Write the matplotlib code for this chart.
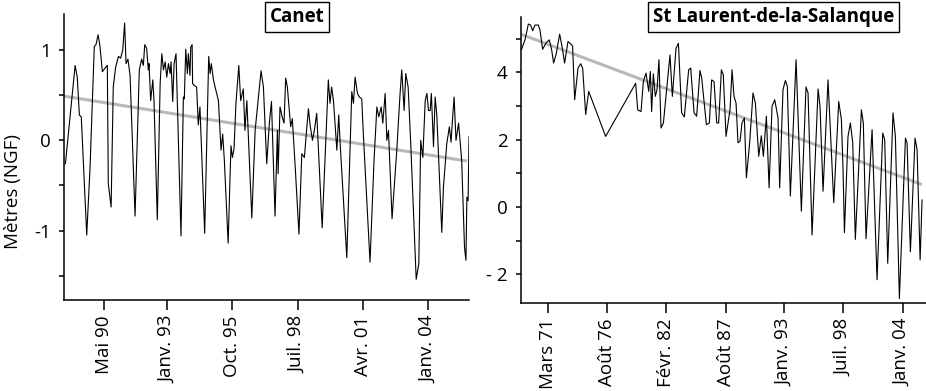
import matplotlib
matplotlib.use("Agg")
import matplotlib.pyplot as plt
import numpy as np

plt.rcParams['font.family'] = ['Open Sans', 'DejaVu Sans']

# Canet : niveau piézométrique (m NGF), date en années décimales
canet_t = [1988.70, 1989.11, 1989.20, 1989.29, 1989.37, 1989.60, 1989.74, 1989.92, 1989.99, 1990.08,
           1990.16, 1990.26, 1990.37, 1990.47, 1990.51, 1990.63, 1990.72, 1990.82, 1990.94, 1991.03,
           1991.12, 1991.20, 1991.26, 1991.34, 1991.43, 1991.64, 1991.82, 1991.92, 1991.99, 1992.05,
           1992.13, 1992.20, 1992.23, 1992.30, 1992.39, 1992.44, 1992.58, 1992.70, 1992.77, 1992.84,
           1992.91, 1992.98, 1993.05, 1993.12, 1993.16, 1993.23, 1993.29, 1993.37, 1993.58, 1993.68,
           1993.72, 1993.78, 1993.85, 1993.89, 1993.96, 1993.99, 1994.05, 1994.07, 1994.13, 1994.24,
           1994.31, 1994.38, 1994.58, 1994.75, 1994.81, 1994.86, 1994.95, 1995.02, 1995.16, 1995.27,
           1995.34, 1995.41, 1995.57, 1995.69, 1995.75, 1995.82, 1995.90, 1996.02, 1996.10, 1996.21,
           1996.28, 1996.36, 1996.57, 1996.71, 1996.96, 1997.06, 1997.20, 1997.31, 1997.40, 1997.55,
           1997.65, 1997.68, 1997.76, 1997.85, 1997.93, 1998.00, 1998.07, 1998.21, 1998.28, 1998.41,
           1998.56, 1998.68, 1998.79, 1998.86, 1998.96, 1999.03, 1999.13, 1999.21, 1999.31, 1999.54,
           1999.80, 1999.87, 1999.94, 2000.02, 2000.16, 2000.24, 2000.30, 2000.58, 2000.79, 2000.86,
           2000.93, 2001.03, 2001.11, 2001.21, 2001.28, 2001.56, 2001.73, 2001.85, 2001.93, 2002.03,
           2002.10, 2002.20, 2002.27, 2002.34, 2002.49, 2002.69, 2002.83, 2002.90, 2003.00, 2003.07,
           2003.17, 2003.28, 2003.51, 2003.62, 2003.70, 2003.79, 2003.89, 2003.96, 2004.03, 2004.10,
           2004.15, 2004.24, 2004.31, 2004.38, 2004.59, 2004.66, 2004.80, 2004.91, 2004.98, 2005.04,
           2005.11, 2005.19, 2005.30, 2005.43, 2005.55, 2005.61, 2005.65, 2005.70, 2005.74]
canet_h = [-0.26, 0.83, 0.70, 0.28, 0.26, -1.05, -0.30, 1.04, 1.06, 1.17,
           1.04, 0.76, 0.80, 0.83, -0.48, -0.74, 0.59, 0.81, 0.93, 0.91,
           1.00, 1.30, 0.85, 0.90, 0.72, -0.84, 0.78, 0.90, 0.83, 1.06,
           1.02, 0.78, 0.85, 0.44, 0.67, 0.44, -0.88, 0.63, 0.96, 0.78,
           0.87, 0.70, 0.85, 0.74, 0.87, 0.43, 0.85, 0.96, -1.06, 0.48,
           0.46, 1.01, 0.74, 0.96, 0.72, 1.03, 1.06, 0.63, 0.61, 0.59,
           0.17, 0.37, -1.03, 0.93, 0.74, 0.85, 0.67, 0.59, 0.44, -0.11,
           0.07, -0.22, -1.14, -0.06, -0.19, -0.09, 0.41, 0.83, 0.44, 0.57,
           0.11, 0.44, -0.86, 0.11, 0.77, 0.59, -0.26, 0.19, 0.43, -0.84,
           0.11, -0.37, 0.37, 0.26, 0.19, 0.69, 0.59, 0.15, 0.24, -0.33,
           -1.04, -0.15, -0.19, 0.04, 0.35, 0.17, 0.00, 0.11, 0.30, -0.97,
           0.67, 0.41, 0.59, 0.43, -0.11, 0.28, -0.04, -1.30, 0.54, 0.41,
           0.70, 0.52, 0.48, 0.46, 0.06, -1.35, -0.22, 0.37, 0.26, 0.37,
           0.19, 0.52, 0.00, 0.11, -0.87, -0.11, 0.52, 0.78, 0.33, 0.74,
           0.59, -0.04, -1.54, -1.37, 0.00, -0.19, 0.44, 0.52, 0.33, 0.33,
           0.52, -0.07, 0.48, 0.28, -1.02, -0.52, -0.04, 0.15, -0.02, 0.22,
           0.48, 0.00, 0.19, -0.22, -1.19, -1.33, -0.63, -0.67, 0.04]
canet_trend_t = [1988.64, 2005.65]
canet_trend_h = [0.49, -0.23]

# St Laurent-de-la-Salanque
stl_t = [1968.67, 1969.01, 1969.32, 1969.53, 1969.72, 1969.93, 1970.24, 1970.40, 1970.64, 1970.95,
         1971.26, 1971.48, 1971.66, 1971.91, 1972.22, 1972.44, 1972.68, 1972.99, 1973.24, 1973.42,
         1973.61, 1973.92, 1974.17, 1974.35, 1974.63, 1974.91, 1976.48, 1979.26, 1979.45, 1979.76,
         1979.97, 1980.22, 1980.47, 1980.62, 1980.74, 1980.90, 1981.08, 1981.24, 1981.42, 1981.61,
         1981.83, 1982.44, 1982.66, 1983.00, 1983.22, 1983.52, 1983.77, 1984.17, 1984.36, 1984.67,
         1984.91, 1985.22, 1985.38, 1985.81, 1986.09, 1986.30, 1986.52, 1986.77, 1986.95, 1987.20,
         1987.38, 1987.63, 1988.00, 1988.19, 1988.37, 1988.56, 1988.74, 1988.93, 1989.11, 1989.33,
         1989.52, 1989.82, 1990.13, 1990.35, 1990.66, 1990.90, 1991.09, 1991.37, 1991.62, 1991.89,
         1992.14, 1992.45, 1992.60, 1992.91, 1993.13, 1993.31, 1993.59, 1994.12, 1994.61, 1995.04,
         1995.23, 1995.60, 1996.16, 1996.34, 1996.62, 1997.08, 1997.61, 1998.07, 1998.32, 1998.47,
         1998.60, 1998.93, 1999.15, 1999.37, 1999.61, 2000.17, 2000.35, 2000.60, 2001.16, 2001.62,
         2002.15, 2002.33, 2002.61, 2003.10, 2003.32, 2003.69, 2004.25, 2004.40, 2004.71, 2005.14,
         2005.33, 2005.61, 2005.79]
stl_h = [4.67, 4.97, 5.44, 5.41, 5.24, 5.41, 5.41, 5.26, 4.69, 4.87,
         4.97, 4.67, 4.28, 4.57, 5.14, 4.77, 4.28, 4.92, 4.85, 4.79,
         3.19, 4.13, 4.26, 4.13, 2.75, 3.44, 2.10, 3.68, 2.89, 2.84,
         3.73, 3.98, 3.44, 4.03, 2.84, 3.96, 3.29, 3.49, 4.38, 2.35,
         2.50, 4.52, 3.29, 4.72, 4.87, 2.80, 2.68, 4.08, 4.13, 2.80,
         2.70, 4.06, 3.83, 2.45, 2.50, 3.78, 3.73, 2.50, 2.50, 4.08,
         3.93, 2.10, 2.89, 4.08, 3.29, 3.09, 1.91, 1.96, 2.50, 2.65,
         0.87, 1.91, 3.39, 3.09, 1.51, 2.12, 1.51, 2.70, 0.57, 2.99,
         3.19, 2.65, 0.57, 3.49, 3.76, 3.59, 0.33, 4.38, -0.12, 3.57,
         3.39, -0.83, 3.51, 2.99, 0.47, 3.78, 0.13, 3.14, 2.60, 1.12,
         -0.76, 2.10, 2.50, 1.91, -0.96, 2.89, 2.50, -0.94, 2.30, -2.16,
         2.20, 2.00, -1.67, 2.80, 2.10, -2.72, 2.05, 1.91, -1.33, 2.05,
         1.71, -1.57, 0.21]
stl_trend_t = [1968.61, 2005.77]
stl_trend_h = [5.14, 0.67]

# graduations (année, mois) et libellés
canet_xticks = [(1990, 5), (1993, 1), (1995, 10), (1998, 7), (2001, 4), (2004, 1)]
canet_xlabels = ["Mai 90", "Janv. 93", "Oct. 95", "Juil. 98", "Avr. 01", "Janv. 04"]
canet_yticks = [-1, 0, 1]
canet_ylabels = ["-1", "0", "1"]

stl_xticks = [(1971, 3), (1976, 8), (1982, 2), (1987, 8), (1993, 1), (1998, 7), (2004, 1)]
stl_xlabels = ["Mars 71", "Août 76", "Févr. 82", "Août 87", "Janv. 93", "Juil. 98", "Janv. 04"]
stl_yticks = [-2, 0, 2, 4]
stl_ylabels = ["- 2", "0", "2", "4"]

FS = 13.5


def dec(ym):
    return [y + (m - 1) / 12.0 for y, m in ym]


def style(ax, xt, xl, yt, yl, minor):
    for s in ['top', 'right']:
        ax.spines[s].set_visible(False)
    for s in ['left', 'bottom']:
        ax.spines[s].set_linewidth(1.1)
    ax.set_xticks(dec(xt))
    ax.set_xticklabels(xl, rotation=90)
    ax.set_yticks(yt)
    ax.set_yticklabels(yl)
    ax.set_yticks(minor, minor=True)
    ax.tick_params(axis='x', length=7, width=1.1, pad=4, labelsize=FS)
    ax.tick_params(axis='y', which='both', length=3.5, width=1.1, pad=6, labelsize=FS)


fig = plt.figure(figsize=(9.26, 3.91), dpi=100)
ax1 = fig.add_axes([0.0691, 0.2327, 0.4374, 0.7315])
ax2 = fig.add_axes([0.5623, 0.2251, 0.4374, 0.7315])

ax1.plot(canet_trend_t, canet_trend_h, color='#b8b8b8', lw=2.2, solid_capstyle='butt')
ax1.plot(canet_t, canet_h, color='black', lw=0.8)
ax1.set_xlim(1988.64, 2005.74)
ax1.set_ylim(-1.77, 1.40)
style(ax1, canet_xticks, canet_xlabels, canet_yticks, canet_ylabels, [-1.5, -0.5, 0.5])
ax1.set_ylabel("Mètres (NGF)", fontsize=FS)
ax1.yaxis.set_label_coords(-0.104, 0.378)
ax1.text(0.576, 0.99, "Canet", transform=ax1.transAxes, ha='center', va='center',
         fontsize=FS, fontweight='bold',
         bbox=dict(boxstyle='square,pad=0.25', fc='white', ec='black', lw=1))

ax2.plot(stl_trend_t, stl_trend_h, color='#b8b8b8', lw=2.2, solid_capstyle='butt')
ax2.plot(stl_t, stl_h, color='black', lw=0.8)
ax2.set_xlim(1968.61, 2006.13)
ax2.set_ylim(-2.85, 5.65)
style(ax2, stl_xticks, stl_xlabels, stl_yticks, stl_ylabels, [-1, 1, 3, 5])
ax2.text(0.624, 1.0, "St Laurent-de-la-Salanque", transform=ax2.transAxes, ha='center', va='center',
         fontsize=FS, fontweight='bold',
         bbox=dict(boxstyle='square,pad=0.25', fc='white', ec='black', lw=1))

fig.savefig("out.png", dpi=100)
